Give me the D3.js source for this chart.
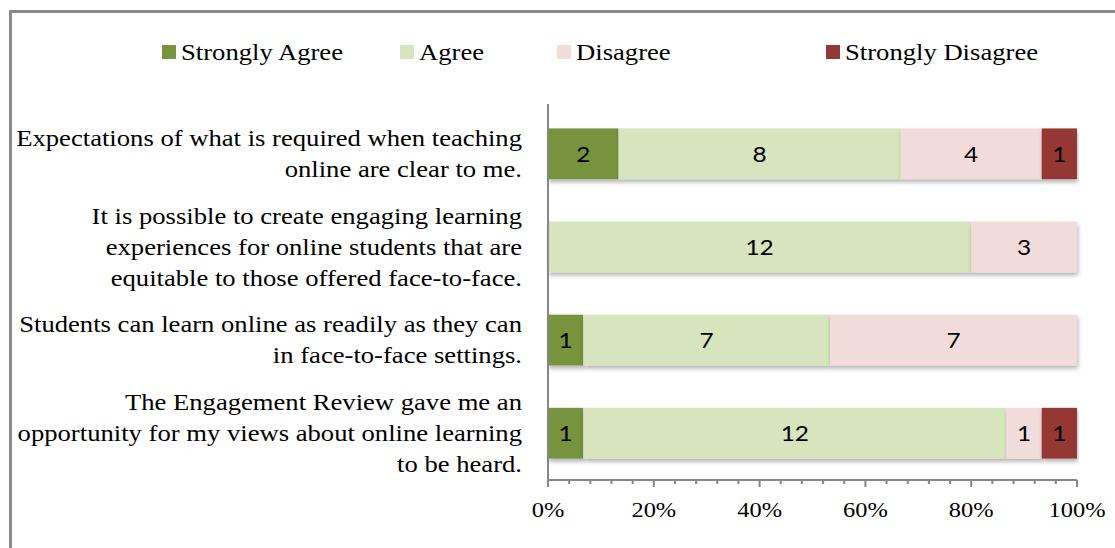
<!DOCTYPE html>
<html>
<head>
<meta charset="utf-8">
<script src="https://cdn.jsdelivr.net/npm/d3@7"></script>
<style>
  body { margin: 0; background: #fff; }
  svg { display: block; }
</style>
</head>
<body>
<svg id="chart" width="1115" height="548"></svg>
<script>
// survey statements, one per bar (lines pre-split as in the source)
let questions = [
  ["Expectations of what is required when teaching", "online are clear to me."],
  ["It is possible to create engaging learning", "experiences for online students that are", "equitable to those offered face-to-face."],
  ["Students can learn online as readily as they can", "in face-to-face settings."],
  ["The Engagement Review gave me an", "opportunity for my views about online learning", "to be heard."]
];
let responses = ["Strongly Agree", "Agree", "Disagree", "Strongly Disagree"];
let stronglyAgree = [2, 0, 1, 1];
let agree = [8, 12, 7, 12];
let disagree = [4, 3, 7, 1];
let stronglyDisagree = [1, 0, 0, 1];
let colors = ["#77933C", "#D7E4BD", "#F2DCDB", "#953735"];
let tickValues = [0, 0.2, 0.4, 0.6, 0.8, 1];

let rows = questions.map((q, i) => ({
  key: i,
  "Strongly Agree": stronglyAgree[i],
  "Agree": agree[i],
  "Disagree": disagree[i],
  "Strongly Disagree": stronglyDisagree[i]
}));

// the original text is a little wider than the fonts we have
let stretch = 1.11;
let place = (px, py) => "translate(" + px + "," + py + ") scale(" + stretch + ",1)";
let serif = "'Liberation Serif', 'Times New Roman', serif";

let svg = d3.select("#chart");

// outer frame (runs off the right and bottom edges)
svg.append("rect")
  .attr("x", 10.5).attr("y", 11.5)
  .attr("width", 1200).attr("height", 600)
  .attr("fill", "none")
  .attr("stroke", "#8a8a8a")
  .attr("stroke-width", 3);

let defs = svg.append("defs");
let filter = defs.append("filter").attr("id", "shadow")
  .attr("x", "-5%").attr("y", "-10%").attr("width", "110%").attr("height", "140%");
filter.append("feDropShadow")
  .attr("dx", 1).attr("dy", 3)
  .attr("stdDeviation", 2)
  .attr("flood-color", "#000")
  .attr("flood-opacity", 0.3);

let plotLeft = 548, plotRight = 1077, plotTop = 107, plotBottom = 480;

let x = d3.scaleLinear().domain([0, 1]).range([plotLeft, plotRight]);
let y = d3.scaleBand().domain(rows.map(d => d.key)).range([plotTop, plotBottom]).paddingInner(0.455).paddingOuter(0.23);

let stack = d3.stack().keys(responses).offset(d3.stackOffsetExpand);
let series = stack(rows);

let groups = svg.append("g").selectAll("g")
  .data(series)
  .enter()
  .append("g")
  .attr("fill", (d, i) => colors[i]);

groups.selectAll("rect")
  .data(d => d.filter(s => s[1] > s[0]))
  .enter()
  .append("rect")
  .attr("x", d => x(d[0]))
  .attr("y", d => y(d.data.key))
  .attr("width", d => x(d[1]) - x(d[0]))
  .attr("height", y.bandwidth())
  .attr("filter", "url(#shadow)");

// segment counts
series.forEach((s, i) => {
  svg.append("g").selectAll("text")
    .data(s.filter(d => d[1] > d[0]))
    .enter()
    .append("text")
    .attr("transform", d => place((x(d[0]) + x(d[1])) / 2, y(d.data.key) + y.bandwidth() / 2))
    .attr("dy", "0.36em")
    .attr("text-anchor", "middle")
    .style("font-family", "Lato, 'Open Sans', sans-serif")
    .style("font-size", "22px")
    .attr("fill", "#000")
    .text(d => d.data[responses[i]]);
});

// x axis with minor ticks every 4%
let xAxis = svg.append("g").attr("transform", "translate(0," + plotBottom + ")");
xAxis.append("line")
  .attr("x1", plotLeft).attr("x2", plotRight)
  .attr("stroke", "#868686").attr("stroke-width", 2);
xAxis.selectAll(".minor")
  .data(d3.range(0, 26).map(i => i * 0.04))
  .enter()
  .append("line")
  .attr("x1", d => x(d)).attr("x2", d => x(d))
  .attr("y1", 0)
  .attr("y2", (d, i) => i % 5 === 0 ? 7 : 4)
  .attr("stroke", "#868686").attr("stroke-width", 2);
xAxis.selectAll("text")
  .data(tickValues)
  .enter()
  .append("text")
  .attr("transform", d => place(x(d), 37))
  .attr("text-anchor", "middle")
  .style("font-family", serif)
  .style("font-size", "22px")
  .text(d => d3.format(".0%")(d));

// y axis line
svg.append("line")
  .attr("x1", plotLeft).attr("x2", plotLeft)
  .attr("y1", 104).attr("y2", plotBottom + 4)
  .attr("stroke", "#868686").attr("stroke-width", 2);

// category labels
let lineH = 31;
svg.append("g").selectAll("text")
  .data(rows)
  .enter()
  .append("text")
  .attr("transform", place(522, 0))
  .attr("text-anchor", "end")
  .style("font-family", serif)
  .style("font-size", "24px")
  .attr("fill", "#000")
  .each(function (d, i) {
    let lines = questions[i];
    let cy = y(d.key) + y.bandwidth() / 2;
    let y0 = cy - (lines.length - 1) * lineH / 2;
    d3.select(this).selectAll("tspan")
      .data(lines)
      .enter()
      .append("tspan")
      .attr("x", 0)
      .attr("y", (l, j) => y0 + j * lineH)
      .attr("dy", "0.33em")
      .text(l => l);
  });

// legend
let legendX = [162, 400, 557, 826];
let legend = svg.append("g").selectAll("g")
  .data(responses)
  .enter()
  .append("g")
  .attr("transform", (d, i) => "translate(" + legendX[i] + ",45)");
legend.append("rect")
  .attr("width", 14).attr("height", 14)
  .attr("fill", (d, i) => colors[i]);
legend.append("text")
  .attr("transform", place(19, 7))
  .attr("dy", "0.35em")
  .style("font-family", serif)
  .style("font-size", "24px")
  .text(d => d);
</script>
</body>
</html>
